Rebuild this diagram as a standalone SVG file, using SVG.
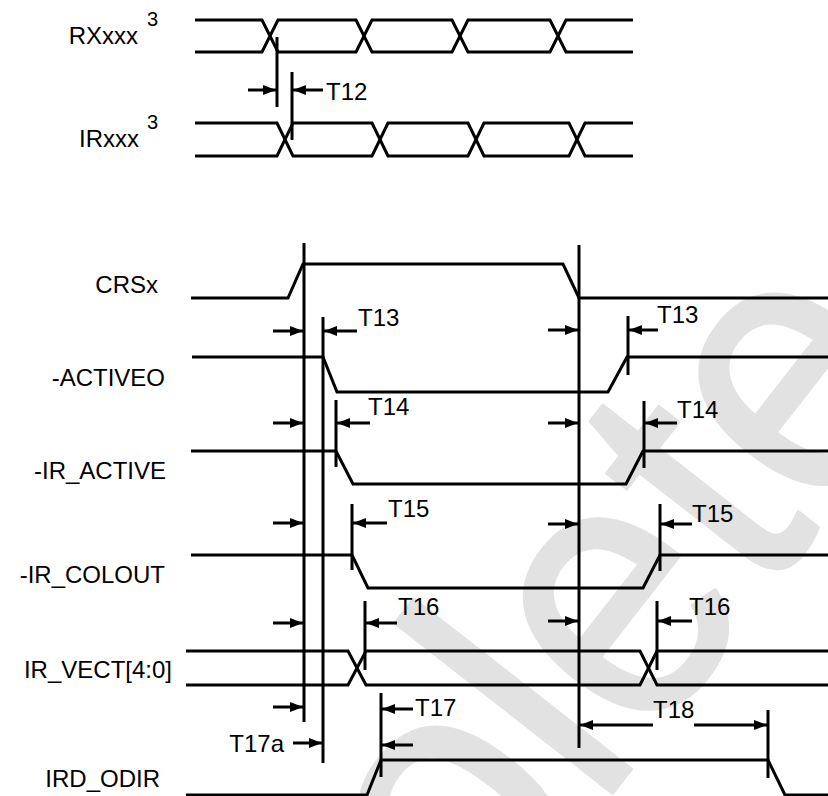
<svg xmlns="http://www.w3.org/2000/svg" width="828" height="796" viewBox="0 0 828 796">
<defs>
<style>
.sig{fill:none;stroke:#000;stroke-width:3;stroke-linejoin:miter}
.mk{fill:none;stroke:#000;stroke-width:3}
.ar{fill:none;stroke:#000;stroke-width:3;marker-end:url(#ah)}
.lb{font-family:"Liberation Sans",Arial,sans-serif;font-size:24px;fill:#000}
.lbe{font-family:"Liberation Sans",Arial,sans-serif;font-size:24px;fill:#000;text-anchor:end}
.sup{font-family:"Liberation Sans",Arial,sans-serif;font-size:20px;fill:#000}
.wm{font-family:"Liberation Sans",Arial,sans-serif;font-size:380px;fill:#e2e2e2;stroke:#e2e2e2;stroke-width:4;stroke-linejoin:round}
</style>
<marker id="ah" viewBox="0 0 13 10" refX="13" refY="5" markerWidth="13" markerHeight="10" markerUnits="userSpaceOnUse" orient="auto">
<path d="M0,0 L13,5 L0,10 z" fill="#000"/>
</marker>
</defs>
<rect width="828" height="796" fill="#fff"/>
<text class="wm" transform="translate(95,1455) rotate(-52) scale(0.9,1)">Obsolete</text>

<g id="RXxxx">
<text class="lbe" x="138" y="44">RXxxx</text>
<text class="sup" x="147" y="26">3</text>
<path class="sig" d="M195,20 H262 L278,52 H356 L372,20 H452 L468,52 H550 L566,20 H633"/>
<path class="sig" d="M195,52 H262 L278,20 H356 L372,52 H452 L468,20 H550 L566,52 H633"/>
</g>
<g id="IRxxx">
<text class="lbe" x="139" y="147">IRxxx</text>
<text class="sup" x="147" y="129">3</text>
<path class="sig" d="M195,123 H277 L293,156 H372 L388,123 H468 L484,156 H569 L585,123 H633"/>
<path class="sig" d="M195,156 H277 L293,123 H372 L388,156 H468 L484,123 H569 L585,156 H633"/>
</g>
<g id="CRSx">
<text class="lbe" x="158" y="293">CRSx</text>
<path class="sig" d="M191,298 H288 L303,264 H563 L579,298 H828"/>
</g>
<g id="ACTIVEO">
<text class="lbe" x="165" y="386">-ACTIVEO</text>
<path class="sig" d="M192,357 H323 L337,392 H608 L627,357 H828"/>
</g>
<g id="IR_ACTIVE">
<text class="lbe" x="166" y="479">-IR_ACTIVE</text>
<path class="sig" d="M191,451 H336 L353,484 H626 L643,451 H828"/>
</g>
<g id="IR_COLOUT">
<text class="lbe" x="165" y="583">-IR_COLOUT</text>
<path class="sig" d="M191,555 H352 L368,588 H643 L660,555 H828"/>
</g>
<g id="IR_VECT">
<text class="lbe" x="172" y="678">IR_VECT[4:0]</text>
<path class="sig" d="M186,651 H348 L366,685 H640 L657,651 H828"/>
<path class="sig" d="M186,685 H348 L366,651 H640 L657,685 H828"/>
</g>
<g id="IRD_ODIR">
<text class="lbe" x="160" y="787">IRD_ODIR</text>
<path class="sig" d="M186,795 H367 L381,760 H768 L785,795 H828"/>
</g>

<g id="connectors">
<path class="mk" d="M277,37 V107 M292,72 V140"/>
<path class="mk" d="M304,243 V722 M323,317 V763 M579,245 V748"/>
<path class="mk" d="M628,316 V375 M336,400 V467 M644,401 V468 M352,504 V570 M660,504 V571 M365,601 V670 M657,601 V670 M381,693 V777 M768,710 V778"/>
<line class="ar" x1="248" y1="90" x2="276" y2="90"/>
<line class="ar" x1="323" y1="90" x2="293" y2="90"/>
<line class="ar" x1="273" y1="331" x2="303" y2="331"/>
<line class="ar" x1="357" y1="331" x2="324" y2="331"/>
<line class="ar" x1="548" y1="330" x2="578" y2="330"/>
<line class="ar" x1="658" y1="330" x2="629" y2="330"/>
<line class="ar" x1="273" y1="423" x2="303" y2="423"/>
<line class="ar" x1="370" y1="423" x2="337" y2="423"/>
<line class="ar" x1="548" y1="423" x2="578" y2="423"/>
<line class="ar" x1="677" y1="423" x2="645" y2="423"/>
<line class="ar" x1="273" y1="523" x2="303" y2="523"/>
<line class="ar" x1="387" y1="523" x2="353" y2="523"/>
<line class="ar" x1="548" y1="524" x2="578" y2="524"/>
<line class="ar" x1="692" y1="524" x2="661" y2="524"/>
<line class="ar" x1="273" y1="623" x2="303" y2="623"/>
<line class="ar" x1="397" y1="623" x2="366" y2="623"/>
<line class="ar" x1="548" y1="621" x2="578" y2="621"/>
<line class="ar" x1="692" y1="621" x2="658" y2="621"/>
<line class="ar" x1="273" y1="707" x2="303" y2="707"/>
<line class="ar" x1="413" y1="709" x2="382" y2="709"/>
<line class="ar" x1="293" y1="743" x2="322" y2="743"/>
<line class="ar" x1="413" y1="745" x2="382" y2="745"/>
<line class="ar" x1="653" y1="725" x2="580" y2="725"/>
<line class="ar" x1="694" y1="725" x2="767" y2="725"/>
<text class="lb" x="326" y="100">T12</text>
<text class="lb" x="358" y="326">T13</text>
<text class="lb" x="657" y="323">T13</text>
<text class="lb" x="368" y="415">T14</text>
<text class="lb" x="677" y="418">T14</text>
<text class="lb" x="388" y="517">T15</text>
<text class="lb" x="692" y="522">T15</text>
<text class="lb" x="398" y="615">T16</text>
<text class="lb" x="689" y="615">T16</text>
<text class="lb" x="415" y="716">T17</text>
<text class="lbe" x="284" y="752">T17a</text>
<text class="lb" x="653" y="718">T18</text>
</g>
</svg>
